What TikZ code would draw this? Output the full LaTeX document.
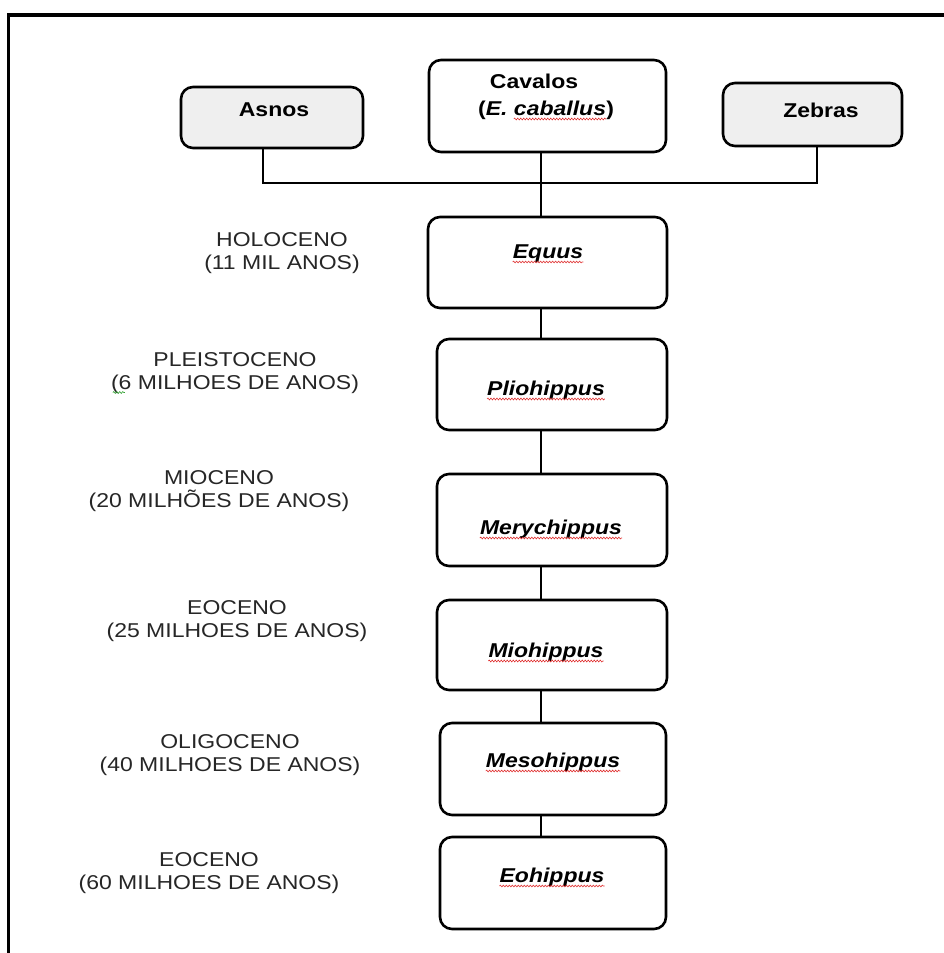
\documentclass[tikz,border=0pt]{standalone}
\usepackage{fontspec}
\setmainfont{Liberation Sans}[FakeStretch=1.15]
\usetikzlibrary{decorations.pathmorphing,calc}
\definecolor{boxgray}{HTML}{EFEFEF}
\definecolor{squigred}{HTML}{E03030}
\definecolor{squiggreen}{HTML}{30A030}
\tikzset{
  frameline/.style={line width=3.5pt},
  gbox/.style={draw, line width=2.6pt, rounded corners=12pt, fill=white, inner sep=0pt},
  grayfill/.style={fill=boxgray},
  conn/.style={line width=1.2pt},
  lbl/.style={font=\fontsize{20}{22.5}\selectfont, align=center, inner sep=0pt, text=black!85},
  boxtxt/.style={font=\fontsize{20}{22.5}\selectfont\bfseries, inner sep=0pt, anchor=base},
  gen/.style={font=\fontsize{20}{22.5}\selectfont\bfseries\itshape, inner sep=0pt, anchor=base},
  squig/.style={draw=squigred, line width=0.6pt, decorate, decoration={snake, amplitude=0.9pt, segment length=3pt}},
  squigg/.style={draw=squiggreen, line width=0.6pt, decorate, decoration={snake, amplitude=0.9pt, segment length=3pt}}
}
\begin{document}
\begin{tikzpicture}[x=1pt, y=-1pt]
\useasboundingbox (0,0) rectangle (944,953);
% frame
\coordinate (fbl) at (8.5,953);
\coordinate (ftl) at (8.5,15);
\coordinate (ftr) at (944,15);
\draw[frameline] (fbl) -- (ftl) -- (ftr);

% top boxes
\node[gbox, grayfill, minimum width=182pt, minimum height=61pt] (asnos) at (272,117.5) {};
\node[gbox, minimum width=237pt, minimum height=92pt] (cav) at (547.5,106) {};
\node[gbox, grayfill, minimum width=179pt, minimum height=63pt] (zeb) at (812.5,114.5) {};

\node[boxtxt] (asnosT) at (274,116) {Asnos};
\node[boxtxt] (zebT) at (821,117) {Zebras};
\node[boxtxt] (cavT1) at (534,88) {Cavalos};
\node[boxtxt, anchor=base west] (cavT2a) at (478,115) {(\textit{E.}};
\node[boxtxt, anchor=base west] (cavT2b) at ([xshift=6pt]cavT2a.base east) {\textit{caballus}};
\node[boxtxt, anchor=base west] (cavT2c) at (cavT2b.base east) {)};

% genus boxes
\node[gbox, minimum width=239pt, minimum height=91pt] (equus) at (547.5,262.5) {};
\node[gbox, minimum width=230pt, minimum height=91pt] (plio) at (552,384.5) {};
\node[gbox, minimum width=230pt, minimum height=92pt] (mery) at (552,520) {};
\node[gbox, minimum width=230pt, minimum height=90pt] (mio) at (552,645) {};
\node[gbox, minimum width=226pt, minimum height=92pt] (meso) at (553,769) {};
\node[gbox, minimum width=226pt, minimum height=92pt] (eo) at (553,883) {};

\node[gen] (equusT) at (548,258) {Equus};
\node[gen] (plioT) at (546,395) {Pliohippus};
\node[gen] (meryT) at (551,534) {Merychippus};
\node[gen] (mioT) at (546,657) {Miohippus};
\node[gen] (mesoT) at (553,767) {Mesohippus};
\node[gen] (eoT) at (552,882) {Eohippus};

% spell-check squiggles
\foreach \n in {equusT,plioT,meryT,mioT,mesoT,eoT,cavT2b}{
  \draw[squig] ($(\n.base west)+(0,4)$) -- ($(\n.base east)+(0,4)$);
}

% period labels
\node[lbl] (holo) at (282,253) {HOLOCENO\\(11 MIL ANOS)};
\node[lbl] (pleis) at (235,373) {PLEISTOCENO\\(6 MILHOES DE ANOS)};
\node[lbl] (mioc) at (219,491) {MIOCENO\\(20 MILHÕES DE ANOS)};
\node[lbl] (eoc1) at (237,621) {EOCENO\\(25 MILHOES DE ANOS)};
\node[lbl] (olig) at (230,755) {OLIGOCENO\\(40 MILHOES DE ANOS)};
\node[lbl] (eoc2) at (209,873) {EOCENO\\(60 MILHOES DE ANOS)};
\draw[squigg] ($(pleis.south west)+(2,-1)$) -- ($(pleis.south west)+(14,-1)$);

% connectors
\coordinate (mx) at (541,0);
\coordinate (ax) at (263,183);
\coordinate (zx) at (817,183);
\draw[conn] (asnos.south -| ax) -- (ax) -- (zx) -- (zeb.south -| zx);
\draw[conn] (cav.south -| mx) -- (equus.north -| mx);
\draw[conn] (equus.south -| mx) -- (plio.north -| mx);
\draw[conn] (plio.south -| mx) -- (mery.north -| mx);
\draw[conn] (mery.south -| mx) -- (mio.north -| mx);
\draw[conn] (mio.south -| mx) -- (meso.north -| mx);
\draw[conn] (meso.south -| mx) -- (eo.north -| mx);
\end{tikzpicture}
\end{document}
